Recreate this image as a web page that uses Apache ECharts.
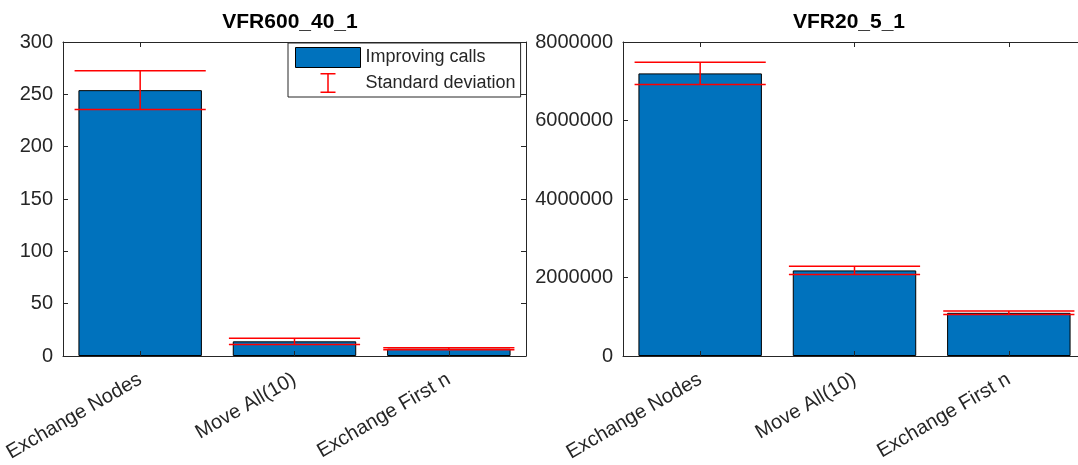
<!DOCTYPE html>
<html>
<head>
<meta charset="utf-8">
<title>Improving calls per neighbourhood</title>
<script src="https://cdn.jsdelivr.net/npm/echarts@6/dist/echarts.min.js"></script>
<style>
  html, body { margin: 0; padding: 0; background: #fff; overflow: hidden; width: 1078px; height: 465px; }
  /* the right panel runs past the window edge, so the drawing surface is a little wider */
  #chart { width: 1092px; height: 465px; }
</style>
</head>
<body>
<div id="chart"></div>
<script>
// Neighbourhood operators compared on two instances
const categories = ['Exchange Nodes', 'Move All(10)', 'Exchange First n'];

// Instance VFR600_40_1: mean improving calls and standard deviation
const vfr600Mean = [254, 14, 7];
const vfr600Std = [18.5, 3, 1];

// Instance VFR20_5_1: mean improving calls and standard deviation
const vfr20Mean = [7200000, 2180000, 1100000];
const vfr20Std = [285000, 105000, 45000];

// Y-axis ranges and steps for each panel
const vfr600Axis = { min: 0, max: 300, interval: 50 };
const vfr20Axis = { min: 0, max: 8000000, interval: 2000000 };

const titles = ['VFR600_40_1', 'VFR20_5_1'];

const FONT = '"Liberation Sans", Arial, Helvetica, sans-serif';
const AXIS_COLOR = '#262626';
const BAR_COLOR = '#0072BD';
const ERR_COLOR = '#FF0000';
const TICK_FONT_SIZE = 20;

// Vertical whisker plus two caps for one category
function errorBarItem(params, api) {
  const x = api.value(0);
  const mean = api.value(1);
  const sd = api.value(2);
  const hi = api.coord([x, mean + sd]);
  const lo = api.coord([x, mean - sd]);
  const half = api.size([1, 0])[0] * 0.425;
  const style = { stroke: ERR_COLOR, lineWidth: 1.5, fill: null };
  return {
    type: 'group',
    children: [
      { type: 'line', shape: { x1: hi[0], y1: hi[1], x2: lo[0], y2: lo[1] }, style: style },
      { type: 'line', shape: { x1: hi[0] - half, y1: hi[1], x2: hi[0] + half, y2: hi[1] }, style: style },
      { type: 'line', shape: { x1: lo[0] - half, y1: lo[1], x2: lo[0] + half, y2: lo[1] }, style: style }
    ]
  };
}

function bottomAxis(gridIndex) {
  return {
    type: 'category', gridIndex: gridIndex, position: 'bottom', data: categories, z: 5,
    boundaryGap: true,
    axisLine: { show: true, lineStyle: { color: AXIS_COLOR, width: 1 } },
    axisTick: { show: true, inside: true, length: 5, alignWithLabel: true, lineStyle: { color: AXIS_COLOR } },
    axisLabel: { rotate: 30, margin: 22, interval: 0, color: AXIS_COLOR, fontSize: TICK_FONT_SIZE, fontFamily: FONT },
    splitLine: { show: false }
  };
}
function topAxis(gridIndex) {
  return {
    type: 'category', gridIndex: gridIndex, position: 'top', data: categories, z: 5,
    boundaryGap: true,
    axisLine: { show: true, onZero: false, lineStyle: { color: AXIS_COLOR, width: 1 } },
    axisTick: { show: true, inside: true, length: 5, alignWithLabel: true, lineStyle: { color: AXIS_COLOR } },
    axisLabel: { show: false },
    splitLine: { show: false }
  };
}
function leftAxis(gridIndex, range) {
  return {
    type: 'value', gridIndex: gridIndex, position: 'left', z: 5,
    min: range.min, max: range.max, interval: range.interval,
    axisLine: { show: true, onZero: false, lineStyle: { color: AXIS_COLOR, width: 1 } },
    axisTick: { show: true, inside: true, length: 5, lineStyle: { color: AXIS_COLOR } },
    axisLabel: {
      margin: 10, color: AXIS_COLOR, fontSize: TICK_FONT_SIZE, fontFamily: FONT,
      formatter: function (v) { return String(v); }
    },
    splitLine: { show: false }
  };
}
function rightAxis(gridIndex, range) {
  return {
    type: 'value', gridIndex: gridIndex, position: 'right', z: 5,
    min: range.min, max: range.max, interval: range.interval,
    axisLine: { show: true, onZero: false, lineStyle: { color: AXIS_COLOR, width: 1 } },
    axisTick: { show: true, inside: true, length: 5, lineStyle: { color: AXIS_COLOR } },
    axisLabel: { show: false },
    splitLine: { show: false }
  };
}

function barSeries(axisBase, values) {
  return {
    name: 'Improving calls', type: 'bar',
    xAxisIndex: axisBase, yAxisIndex: axisBase,
    data: values, barWidth: '80%', z: 2,
    itemStyle: { color: BAR_COLOR, borderColor: '#000', borderWidth: 1 },
    emphasis: { disabled: true }
  };
}
function errSeries(axisBase, means, sds) {
  return {
    name: 'Standard deviation', type: 'custom',
    xAxisIndex: axisBase, yAxisIndex: axisBase,
    data: means.map(function (m, i) { return [i, m, sds[i]]; }),
    encode: { x: 0, y: 1 },
    renderItem: errorBarItem, z: 3,
    itemStyle: { color: ERR_COLOR }
  };
}

const chart = echarts.init(document.getElementById('chart'), null, { renderer: 'canvas' });

chart.setOption({
  animation: false,
  textStyle: { fontFamily: FONT },
  title: [
    { text: titles[0], left: 285, top: 7, textAlign: 'center',
      textStyle: { fontSize: 21, fontWeight: 'bold', color: '#000', fontFamily: FONT } },
    { text: titles[1], left: 844, top: 7, textAlign: 'center',
      textStyle: { fontSize: 21, fontWeight: 'bold', color: '#000', fontFamily: FONT } }
  ],
  legend: {
    orient: 'vertical', left: 288, top: 43,
    padding: [4, 5, 4, 7], itemGap: 5,
    itemWidth: 65, itemHeight: 20,
    borderColor: AXIS_COLOR, borderWidth: 1, backgroundColor: '#fff',
    selectedMode: false, z: 10,
    textStyle: { fontSize: 18, color: AXIS_COLOR, fontFamily: FONT },
    data: [
      { name: 'Improving calls', icon: 'rect',
        itemStyle: { color: BAR_COLOR, borderColor: '#000', borderWidth: 1 } },
      { name: 'Standard deviation',
        icon: 'path://M0,0 M65,20 M25,0 h15 v1.5 h-6.75 v17 h6.75 v1.5 h-15 v-1.5 h6.75 v-17 h-6.75 Z',
        itemStyle: { color: ERR_COLOR, borderWidth: 0 } }
    ]
  },
  grid: [
    { left: 63, top: 42, width: 463, height: 314 },
    { left: 623, top: 42, width: 463, height: 314 }
  ],
  xAxis: [bottomAxis(0), bottomAxis(1), topAxis(0), topAxis(1)],
  yAxis: [leftAxis(0, vfr600Axis), leftAxis(1, vfr20Axis), rightAxis(0, vfr600Axis), rightAxis(1, vfr20Axis)],
  series: [
    barSeries(0, vfr600Mean),
    errSeries(0, vfr600Mean, vfr600Std),
    barSeries(1, vfr20Mean),
    errSeries(1, vfr20Mean, vfr20Std)
  ]
});
</script>
</body>
</html>
